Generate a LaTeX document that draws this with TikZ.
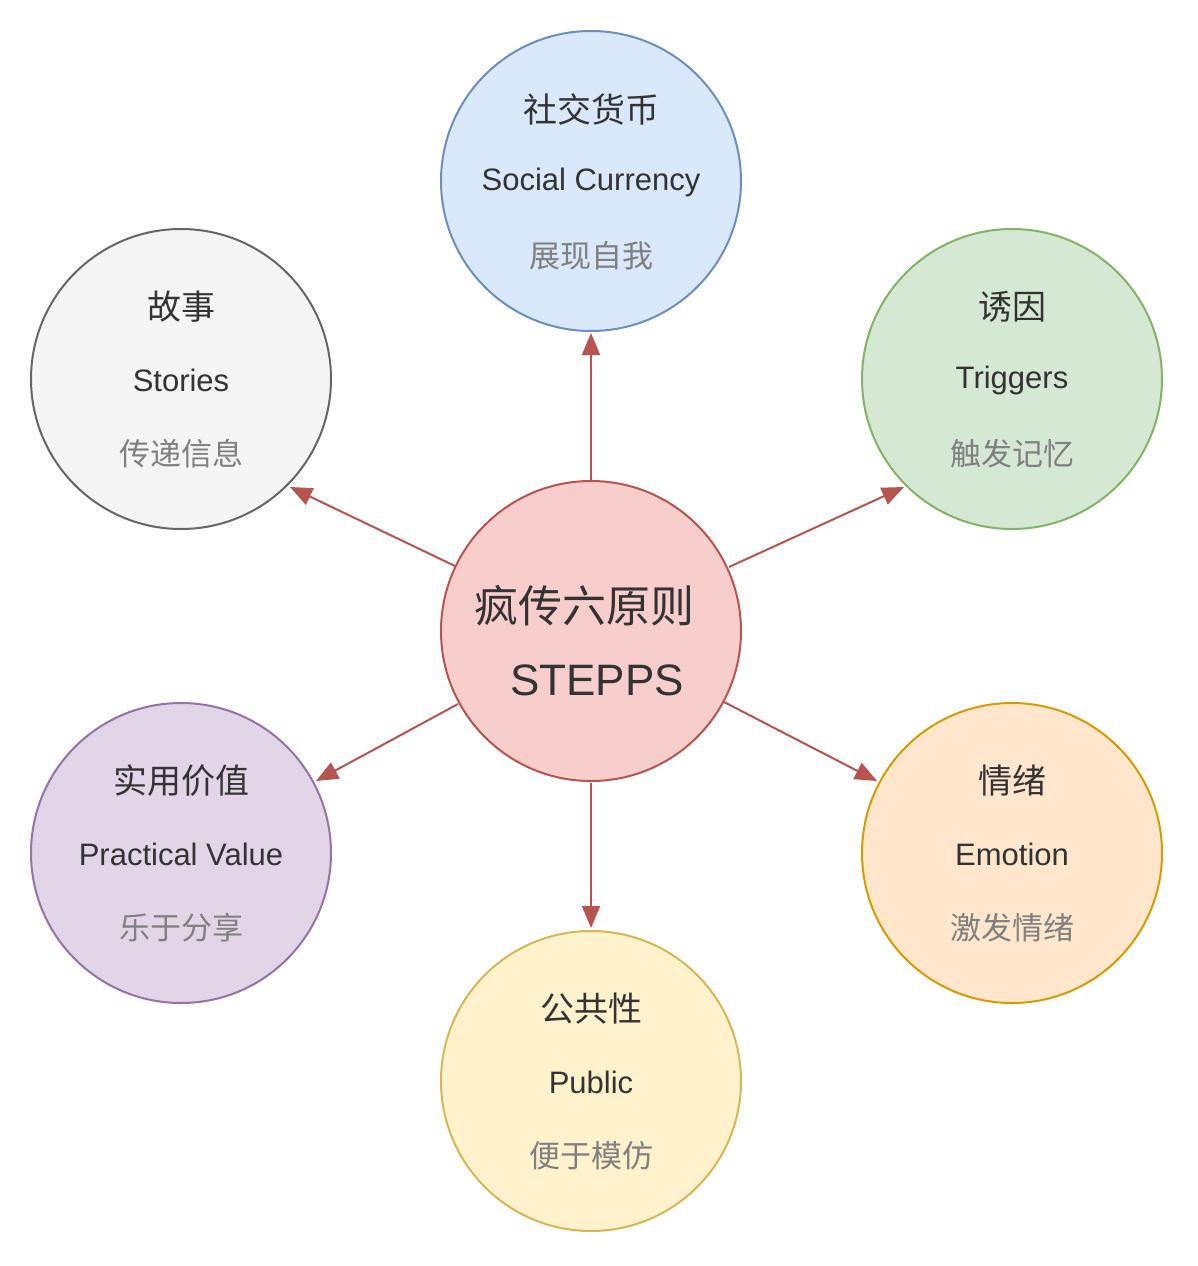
\documentclass[tikz,border=0pt]{standalone}
\usepackage{fontspec}
\setmainfont{Liberation Sans}
\newfontfamily\cjk{Noto Sans CJK SC}
\usetikzlibrary{arrows.meta,calc}
\definecolor{tx}{HTML}{333333}
\definecolor{sub}{HTML}{808080}
\definecolor{ar}{HTML}{B85450}
\tikzset{
 bub/.style={circle,minimum size=300pt,inner sep=0pt,line width=2pt},
 ttl/.style={text=tx,font=\cjk\fontsize{34}{34}\selectfont},
 eng/.style={text=tx,font=\fontsize{31}{31}\selectfont},
 sb/.style={text=sub,font=\cjk\fontsize{31}{31}\selectfont},
 con/.style={draw=ar,line width=2pt,-{Triangle[length=22pt,width=18pt]}}
}
\begin{document}
\begin{tikzpicture}[x=1pt,y=-1pt]
\useasboundingbox (0,0) rectangle (1197,1266);
\node[bub,fill=red!0,draw=ar,fill={rgb,255:red,248;green,206;blue,204}] (c) at (591,631) {};
\node[bub,draw={rgb,255:red,108;green,142;blue,191},fill={rgb,255:red,218;green,232;blue,252}] (sc) at (591,181) {};
\node[bub,draw={rgb,255:red,102;green,102;blue,102},fill={rgb,255:red,245;green,245;blue,245}] (st) at (181,379) {};
\node[bub,draw={rgb,255:red,130;green,179;blue,102},fill={rgb,255:red,213;green,232;blue,212}] (tr) at (1012,379) {};
\node[bub,draw={rgb,255:red,150;green,115;blue,166},fill={rgb,255:red,225;green,213;blue,231}] (pv) at (181,853) {};
\node[bub,draw={rgb,255:red,215;green,155;blue,0},fill={rgb,255:red,255;green,230;blue,204}] (em) at (1012,853) {};
\node[bub,draw={rgb,255:red,214;green,182;blue,86},fill={rgb,255:red,255;green,242;blue,204}] (pu) at (591,1081) {};
\node[ttl,font=\cjk\fontsize{44}{44}\selectfont] (c1) at (584,606) {疯传六原则};
\node[eng,font=\fontsize{44}{44}\selectfont] (c2) at (597,680) {STEPPS};
\foreach \n/\a/\b/\d/\o in {sc/社交货币/Social Currency/展现自我/0, st/故事/Stories/传递信息/0, tr/诱因/Triggers/触发记忆/0, pv/实用价值/Practical Value/乐于分享/0, em/情绪/Emotion/激发情绪/0, pu/公共性/Public/便于模仿/0}{
 \node[ttl] (\n-a) at ($(\n)+(0,-72)$) {\a};
 \node[eng] (\n-b) at ($(\n)+(0,1)$) {\b};
 \node[sb] (\n-c) at ($(\n)+(0,75)$) {\d};
}
\coordinate (s1) at (591,481); \coordinate (e1) at (591,333);
\coordinate (s2) at (455,566); \coordinate (e2) at (290,487);
\coordinate (s3) at (729,567); \coordinate (e3) at (904,487);
\coordinate (s4) at (458,704); \coordinate (e4) at (316,781);
\coordinate (s5) at (724,702); \coordinate (e5) at (877,781);
\coordinate (s6) at (591,783); \coordinate (e6) at (591,928);
\foreach \i in {1,...,6}{\draw[con] (s\i) -- (e\i);}
\end{tikzpicture}
\end{document}
